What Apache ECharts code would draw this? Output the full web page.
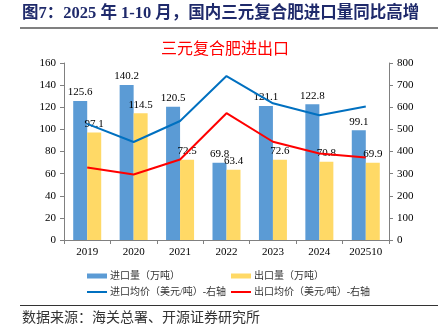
<!DOCTYPE html>
<html><head><meta charset="utf-8">
<script src="https://cdn.jsdelivr.net/npm/echarts@6/dist/echarts.min.js"></script>
<style>html,body{margin:0;padding:0;background:#fff}#c{width:438px;height:334px}</style>
</head><body><div id="c"></div>
<script>
const categories = ['2019','2020','2021','2022','2023','2024','202510'];
const importVol = [125.6,140.2,120.5,69.8,121.1,122.8,99.1];
const exportVol = [97.1,114.5,72.5,63.4,72.6,70.8,69.9];
const importPrice = [525,443,538,741,618,564,603];
const exportPrice = [328,296,364,573,444,391,373];

const serif = '"Liberation Serif","Times New Roman","Noto Sans CJK SC",serif';
const cjk = '"Liberation Serif","Noto Sans CJK SC",sans-serif';
const chart = echarts.init(document.getElementById('c'));
const lbl = {show:true, position:'top', fontFamily:serif, fontSize:11, color:'#000', distance:3};
const legTxt = {fontSize:10, color:'#333', fontFamily:cjk, padding:[0,0,0,-2]};
function leg(name, left, top, h, icon){
  return {left:left, top:top, itemWidth:20, itemHeight:h, icon:icon,
    data:[{name:name}], textStyle:legTxt};
}
chart.setOption({
  animation:false,
  graphic:[
    {type:'text', left:22, top:5, style:{text:'图7：2025 年 1-10 月，国内三元复合肥进口量同比高增', fill:'#1F2A6B', font:'bold 16.5px '+cjk}},
    {type:'rect', shape:{x:20,y:27,width:418,height:2}, style:{fill:'#808080'}},
    {type:'text', x:225, y:50, style:{text:'三元复合肥进出口', fill:'#FF0000', font:'16px '+cjk, align:'center', verticalAlign:'middle'}},
    {type:'rect', shape:{x:20,y:305,width:418,height:1}, style:{fill:'#333'}},
    {type:'text', left:22, top:311, style:{text:'数据来源：海关总署、开源证券研究所', fill:'#333', font:'14px '+cjk}}
  ],
  grid:{left:64, right:49, top:63, bottom:94},
  legend:[
    leg('进口量（万吨）', 82, 266, 5, 'rect'),
    leg('出口量（万吨）', 226, 266, 5, 'rect'),
    leg('进口均价（美元/吨）-右轴', 82, 282, 2, 'rect'),
    leg('出口均价（美元/吨）-右轴', 226, 282, 2, 'rect')
  ],
  xAxis:{type:'category', data:categories,
    axisLine:{lineStyle:{color:'#808080'}}, axisTick:{show:true, length:4, lineStyle:{color:'#808080'}},
    axisLabel:{fontFamily:serif, fontSize:11, color:'#000', margin:7}},
  yAxis:[
    {type:'value', min:0, max:160, interval:20, splitLine:{show:false},
     axisLine:{show:true, lineStyle:{color:'#808080'}}, axisTick:{show:true, length:4},
     axisLabel:{fontFamily:serif, fontSize:11, color:'#000', margin:8}},
    {type:'value', min:0, max:800, interval:100, splitLine:{show:false},
     axisLine:{show:true, lineStyle:{color:'#808080'}}, axisTick:{show:true, length:4},
     axisLabel:{fontFamily:serif, fontSize:11, color:'#000', margin:8}}
  ],
  series:[
    {name:'进口量（万吨）', type:'bar', data:importVol, barWidth:14, barGap:'0%',
     itemStyle:{color:'#5B9BD5'}, label:lbl},
    {name:'出口量（万吨）', type:'bar', data:exportVol, barWidth:14,
     itemStyle:{color:'#FFD966'}, label:lbl},
    {name:'进口均价（美元/吨）-右轴', type:'line', yAxisIndex:1, data:importPrice, symbol:'none',
     lineStyle:{color:'#0070C0', width:2}, itemStyle:{color:'#0070C0'}},
    {name:'出口均价（美元/吨）-右轴', type:'line', yAxisIndex:1, data:exportPrice, symbol:'none',
     lineStyle:{color:'#FF0000', width:2}, itemStyle:{color:'#FF0000'}}
  ]
});
</script></body></html>
